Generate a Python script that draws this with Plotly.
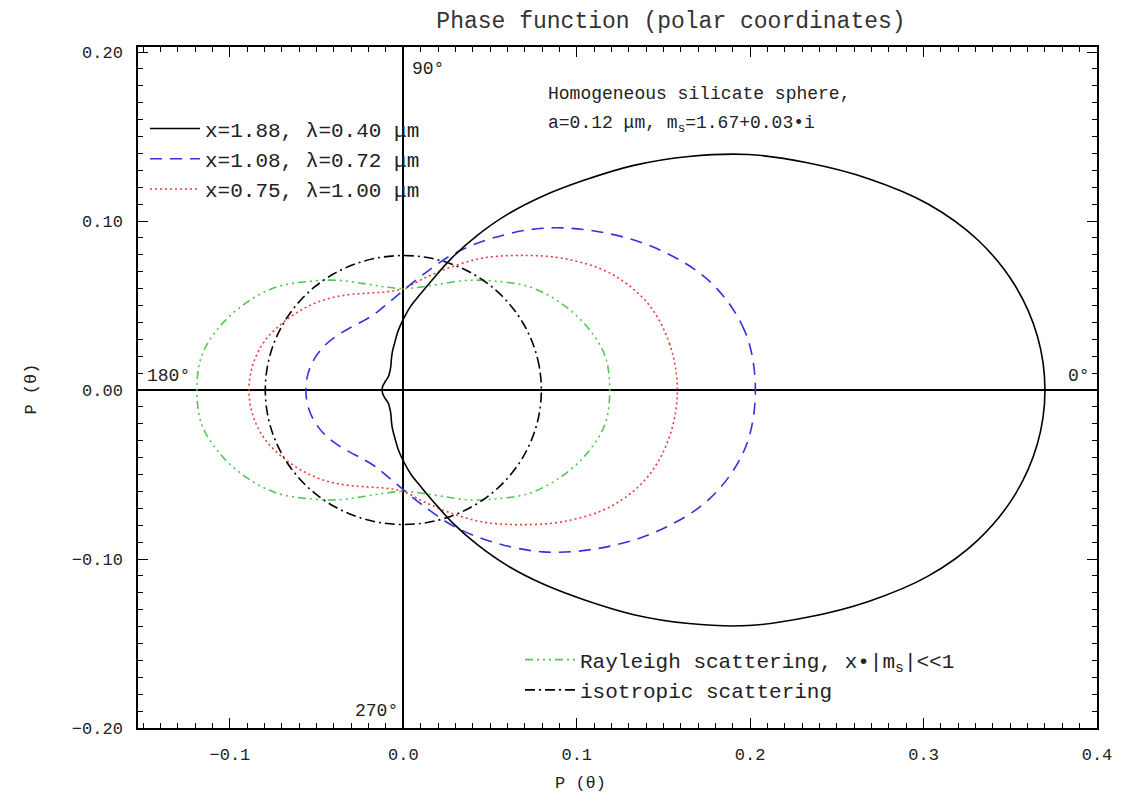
import numpy as np
import plotly.graph_objects as go

# scattering angle grids (degrees, 0..180; the curve is mirrored for 180..360)
theta_fine = [0, 5, 10, 15, 20, 25, 30, 35, 40, 45, 50, 55, 60, 65, 70, 75, 80, 85, 90,
              95, 100, 105, 110, 115, 120, 125, 130, 135, 140, 145, 150, 155, 160, 165, 170, 175, 180]
theta_coarse = [0, 10, 20, 30, 40, 50, 60, 70, 80, 90, 100, 110, 120, 130, 140, 150, 160, 170, 180]

# phase function values P(theta)
p_x188 = [0.370, 0.367, 0.358, 0.343, 0.322, 0.296, 0.269, 0.243, 0.215, 0.188, 0.162, 0.140, 0.120,
          0.101, 0.084, 0.069, 0.058, 0.050, 0.042, 0.035, 0.0285, 0.024, 0.020, 0.0168, 0.0148, 0.0135,
          0.0126, 0.0119, 0.0116, 0.0115, 0.0115, 0.0116, 0.0117, 0.0119, 0.0121, 0.0122, 0.0123]
p_x108 = [0.203, 0.200, 0.188, 0.168, 0.146, 0.125, 0.104, 0.086, 0.070, 0.059, 0.052, 0.048, 0.047,
          0.048, 0.050, 0.0525, 0.0545, 0.0558, 0.0562]
p_x075 = [0.158, 0.156, 0.150, 0.138, 0.121, 0.104, 0.090, 0.077, 0.067, 0.060, 0.059, 0.061, 0.065,
          0.070, 0.075, 0.080, 0.085, 0.088, 0.089]
p_rayleigh = [0.119, 0.118, 0.112, 0.104, 0.095, 0.084, 0.075, 0.067, 0.062, 0.060, 0.062, 0.067, 0.075,
              0.084, 0.095, 0.104, 0.112, 0.118, 0.119]
p_isotropic = [0.0796] * 19

labels = ["x=1.88, λ=0.40 μm", "x=1.08, λ=0.72 μm", "x=0.75, λ=1.00 μm",
          "Rayleigh scattering, x•|m<sub>s</sub>|&lt;&lt;1", "isotropic scattering"]

FONT = "Liberation Mono"
TXT = "#222"


def polar_xy(theta, p):
    th = list(theta) + [360 - t for t in reversed(theta[:-1])]
    pp = list(p) + list(reversed(p[:-1]))
    th = np.radians(np.array(th, dtype=float))
    pp = np.array(pp, dtype=float)
    return pp * np.cos(th), pp * np.sin(th)


fig = go.Figure()

series = [
    (theta_coarse, p_rayleigh, labels[3], "rgb(80,200,80)", "8px,4px,2px,4px,2px,4px,2px,4px", "legend2"),
    (theta_coarse, p_isotropic, labels[4], "black", "10px,4px,2px,4px", "legend2"),
    (theta_coarse, p_x075, labels[2], "rgb(235,60,60)", "2px,3px", "legend"),
    (theta_coarse, p_x108, labels[1], "rgb(50,50,225)", "12px,8px", "legend"),
    (theta_fine, p_x188, labels[0], "black", "solid", "legend"),
]
legend_rank = {labels[0]: 1, labels[1]: 2, labels[2]: 3, labels[3]: 1, labels[4]: 2}
for th, p, name, col, dash, lg in series:
    x, y = polar_xy(th, p)
    fig.add_trace(go.Scatter(x=x, y=y, mode="lines", name=name, legend=lg,
                             legendrank=legend_rank[name],
                             line=dict(color=col, width=1.6, dash=dash, shape="spline", smoothing=1.0)))

axis_common = dict(showgrid=False, ticks="inside", mirror="allticks", showline=True,
                   linecolor="black", linewidth=1.5, tickcolor="black", ticklen=10, tickwidth=1.3,
                   zeroline=True, zerolinecolor="black", zerolinewidth=1.8,
                   tickfont=dict(family=FONT, size=17, color=TXT), ticklabelstandoff=10,
                   minor=dict(ticks="inside", ticklen=5, tickcolor="black", tickwidth=1))

fig.update_xaxes(range=[-0.153, 0.4], tickvals=[-0.1, 0.0, 0.1, 0.2, 0.3, 0.4],
                 ticktext=["−0.1", "0.0", "0.1", "0.2", "0.3", "0.4"],
                 minor_dtick=0.01, **axis_common)
fig.update_yaxes(range=[-0.2, 0.203], tickvals=[-0.2, -0.1, 0.0, 0.1, 0.2],
                 ticktext=["−0.20", "−0.10", "0.00", "0.10", "0.20"],
                 minor_dtick=0.01, **axis_common)

ann_font = dict(family=FONT, size=18, color=TXT)
annotations = [
    dict(x=0.004, y=0.197, text="90°", xanchor="left", yanchor="top"),
    dict(x=-0.149, y=0.001, text="180°", xanchor="left", yanchor="bottom"),
    dict(x=0.397, y=0.001, text="0°", xanchor="right", yanchor="bottom"),
    dict(x=-0.002, y=-0.197, text="270°", xanchor="right", yanchor="bottom"),
    dict(x=0.082, y=0.175, text="Homogeneous silicate sphere,", xanchor="left", yanchor="middle"),
    dict(x=0.082, y=0.157, text="a=0.12 μm, m<sub>s</sub>=1.67+0.03•i", xanchor="left", yanchor="middle"),
]
for a in annotations:
    fig.add_annotation(xref="x", yref="y", showarrow=False, font=ann_font, **a)

# axis titles
fig.add_annotation(xref="paper", yref="paper", x=(580 - 138) / 959, y=-0.082, text="P (θ)",
                   showarrow=False, xanchor="center", yanchor="middle",
                   font=dict(family=FONT, size=17, color=TXT))
fig.add_annotation(xref="paper", yref="paper", x=(32 - 138) / 959, y=0.497, text="P (θ)",
                   showarrow=False, xanchor="center", yanchor="middle", textangle=-90,
                   font=dict(family=FONT, size=17, color=TXT))

fig.update_layout(
    width=1135, height=801,
    margin=dict(l=138, r=38, t=47, b=73),
    paper_bgcolor="white", plot_bgcolor="white",
    title=dict(text="Phase function (polar coordinates)", x=671 / 1135, xanchor="center", y=0.975,
               yanchor="middle", font=dict(family=FONT, size=23, color="#333")),
    legend=dict(x=(145 - 138) / 959, y=0.91, xanchor="left", yanchor="top", bgcolor="rgba(0,0,0,0)",
                font=dict(family=FONT, size=21, color=TXT), tracegroupgap=0, itemwidth=50),
    legend2=dict(x=(520 - 138) / 959, y=0.13, xanchor="left", yanchor="top", bgcolor="rgba(0,0,0,0)",
                 font=dict(family=FONT, size=21, color=TXT), tracegroupgap=0, itemwidth=50),
    showlegend=True,
)

fig.write_html("out.html")
